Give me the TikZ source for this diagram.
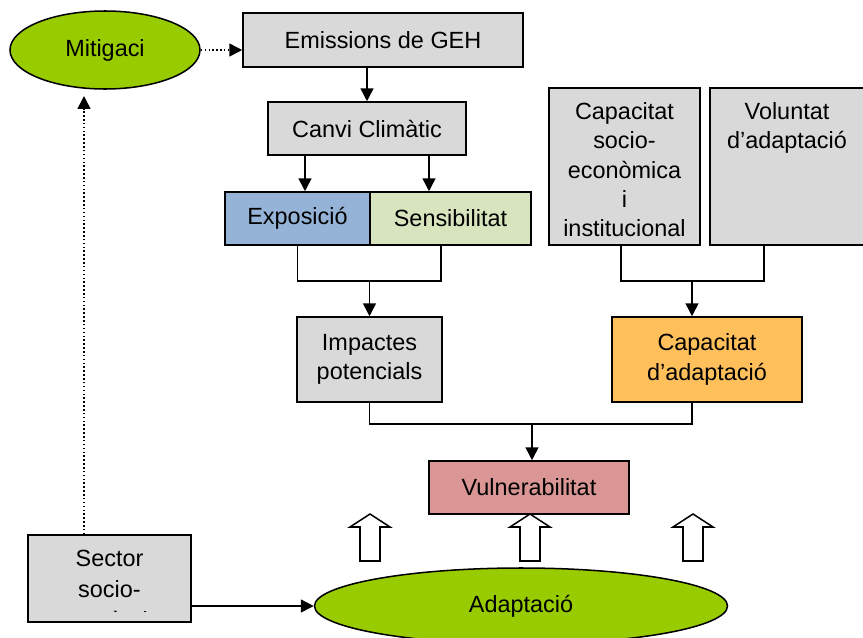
\documentclass[tikz,border=0pt]{standalone}
\usepackage{fontspec}
\setmainfont{Liberation Sans}
\usetikzlibrary{arrows.meta,shapes.geometric}
\definecolor{boxgray}{HTML}{D9D9D9}
\definecolor{leafgreen}{HTML}{99CC00}
\definecolor{expblue}{HTML}{95B3D7}
\definecolor{senscream}{HTML}{D7E4BD}
\definecolor{caporange}{HTML}{FFC05C}
\definecolor{vulpink}{HTML}{D99694}
\tikzset{hollowup/.pic={
		\draw[line width=1.3pt, fill=white] (-10,0) -- (-10,-34) -- (-20,-34) -- (0,-47) -- (20,-34) -- (10,-34) -- (10,0) -- cycle;
	}}
\begin{document}
\begin{tikzpicture}
			[x=0.03cm, y=-0.03cm,
			every node/.style = {font=\fontsize{20}{25}\selectfont, align=center},
			box/.style = {draw, line width=1.3pt, fill=boxgray, inner sep=0pt},
			oval/.style = {ellipse, draw, line width=1.3pt, fill=leafgreen, inner sep=0pt},
			toptext/.style = {anchor=north, inner xsep=0pt, inner ysep=13pt},
			link/.style = {line width=1.3pt},
			arr/.style = {link, -{Triangle[length=11pt,width=11pt]}},
			dotarr/.style = {arr, dotted}]
			\clip (0,0) rectangle (863,637);
			% upper part
			\node[oval, minimum width=5.7cm, minimum height=2.34cm] (mit) at (105,50) {Mitigaci};
			\node[box, minimum width=8.4cm, minimum height=1.62cm] (emis) at (383,40) {Emissions de GEH};
			\node[box, minimum width=5.94cm, minimum height=1.59cm] (canvi) at (367,128.5) {Canvi Climàtic};
			\node[box, fill=expblue, minimum width=4.35cm, minimum height=1.59cm] (expo) at (297.5,218.5) {Exposició};
			\node[box, fill=senscream, minimum width=4.83cm, minimum height=1.59cm] (sens) at (450.5,218.5) {Sensibilitat};
			\node[box, minimum width=4.53cm, minimum height=4.71cm] (capsoc) at (624.5,166.5) {};
			\node[toptext] (capsoctxt) at (capsoc.north) {Capacitat\\socio-\\econòmica\\i\\institucional};
			\node[box, minimum width=4.62cm, minimum height=4.71cm] (volu) at (787,166.5) {};
			\node[toptext] (volutxt) at (volu.north) {Voluntat\\d’adaptació};
			% middle part
			\node[box, minimum width=4.35cm, minimum height=2.55cm] (impa) at (369.5,359.5) {Impactes\\potencials};
			\node[box, fill=caporange, minimum width=5.7cm, minimum height=2.55cm] (capad) at (707,359.5) {Capacitat\\d’adaptació};
			\node[box, fill=vulpink, minimum width=6cm, minimum height=1.59cm] (vuln) at (529,487.5) {Vulnerabilitat};
			% lower part
			\node[oval, minimum width=12.39cm, minimum height=2.28cm] (adap) at (521,606) {Adaptació};
			\node[box, minimum width=4.89cm, minimum height=2.61cm] (sector) at (109.5,578.5) {};
			\begin{scope}
				\clip (28,535) rectangle (191,611.5);
				\node[toptext, font=\fontsize{20}{26.5}\selectfont] (sectortxt) at (sector.north) {Sector\\socio-\\econòmic};
			\end{scope}
			\coordinate (mitfoot) at (84,96);
			
			\draw[dotarr] (mit.east) -- (mit.east -| emis.west);
			\draw[arr] (emis.south -| canvi.north) -- (canvi.north);
			\draw[arr] ([xshift=-1.86cm]canvi.south) -- ([xshift=-1.86cm]canvi.south |- expo.north);
			\draw[arr] ([xshift=1.86cm]canvi.south) -- ([xshift=1.86cm]canvi.south |- sens.north);
			
			\path (impa.north) ++(0,-35) coordinate (forkA);
			\draw[link] (expo.south) |- (forkA) -| ([xshift=-0.28cm]sens.south);
			\draw[arr] (forkA) -- (impa.north);
			
			\path ([xshift=-0.45cm]capad.north) ++(0,-35) coordinate (forkB);
			\draw[link] ([xshift=-0.1cm]capsoc.south) |- (forkB) -| ([xshift=-0.69cm]volu.south);
			\draw[arr] (forkB) -- (forkB |- capad.north);
			
			\path ([xshift=0.09cm]vuln.north) ++(0,-36) coordinate (forkC);
			\draw[link] (impa.south) |- (forkC) -| ([xshift=-0.45cm]capad.south);
			\draw[arr] (forkC) -- (forkC |- vuln.north);
			
			\draw[arr] (sector.east |- adap.west) -- (adap.west);
			\draw[dotarr] (sector.north -| mitfoot) -- (mitfoot);
			
			\pic at (370,561) {hollowup};
			\pic at (530,561) {hollowup};
			\pic at (693,561) {hollowup};
		\end{tikzpicture}
\end{document}
